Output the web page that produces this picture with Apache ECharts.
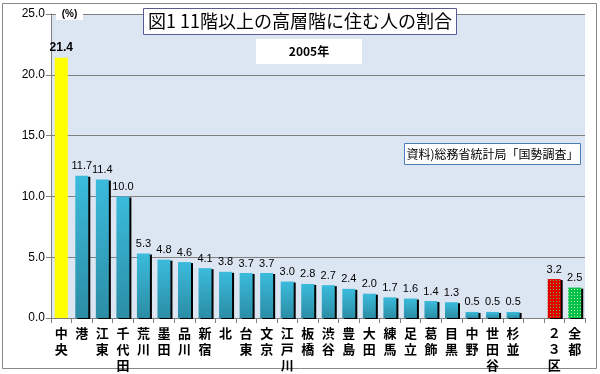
<!DOCTYPE html>
<html><head><meta charset="utf-8">
<script src="https://cdn.jsdelivr.net/npm/echarts@6/dist/echarts.min.js"></script>
<style>html,body{margin:0;padding:0;background:#fff}#c{width:600px;height:374px}</style>
</head><body><div id="c"></div>
<script>
const categories = ['中央','港','江東','千代田','荒川','墨田','品川','新宿','北','台東','文京','江戸川','板橋','渋谷','豊島','大田','練馬','足立','葛飾','目黒','中野','世田谷','杉並','','２３区','全都'];
const values = [21.4,11.7,11.4,10.0,5.3,4.8,4.6,4.1,3.8,3.7,3.7,3.0,2.8,2.7,2.4,2.0,1.7,1.6,1.4,1.3,0.5,0.5,0.5,null,3.2,2.5];
const yTicks = [0,5,10,15,20,25];
const titleText = '図1 11階以上の高層階に住む人の割合';
const subText = '2005年';
const sourceText = '資料)総務省統計局「国勢調査」';

const FONT = '"Noto Sans CJK JP", "Noto Sans", sans-serif';

function dotPattern(bg, dot){
  const cv = document.createElement('canvas');
  cv.width = 3; cv.height = 3;
  const g = cv.getContext('2d');
  g.fillStyle = bg; g.fillRect(0,0,3,3);
  g.fillStyle = dot; g.fillRect(1,1,1,1);
  return {image: cv, repeat: 'repeat'};
}

const blueGrad = new echarts.graphic.LinearGradient(0,0,0,1,[{offset:0,color:'#3bbbdc'},{offset:1,color:'#2b8da5'}]);

const data = values.map((v,i)=>{
  if (v === null) return null;
  const name = categories[i];
  let item = {value: v, itemStyle: {color: blueGrad, shadowColor:'#000', shadowOffsetX:2, shadowOffsetY:1, shadowBlur:0}};
  if (i === 0) {
    item.itemStyle = {color:'#ffff00'};
    item.label = {fontWeight:'bold', fontSize:12};
  } else if (name === '２３区') {
    item.itemStyle = {color: dotPattern('#e00000','#70c040'), shadowColor:'#000', shadowOffsetX:2, shadowOffsetY:1, shadowBlur:0};
  } else if (name === '全都') {
    item.itemStyle = {color: dotPattern('#00c050','#c0f080'), shadowColor:'#000', shadowOffsetX:2, shadowOffsetY:1, shadowBlur:0};
  }
  return item;
});

const chart = echarts.init(document.getElementById('c'), null, {renderer:'canvas'});
chart.setOption({
  animation:false,
  backgroundColor:'#fff',
  grid:{left:51, right:15, top:14, bottom:56, show:true, backgroundColor:'#dce6f2', borderWidth:0},
  xAxis:{
    type:'category', data:categories,
    axisLine:{show:true, lineStyle:{color:'#808080'}},
    axisTick:{show:true, alignWithLabel:false, length:5, lineStyle:{color:'#808080'}},
    axisLabel:{interval:0, color:'#000', fontFamily:FONT, fontSize:13, fontWeight:'bold', lineHeight:16, margin:7,
      formatter: v => v.split('').join('\n')}
  },
  yAxis:{
    type:'value', min:yTicks[0], max:yTicks[yTicks.length-1], interval:5,
    axisLine:{show:true, lineStyle:{color:'#808080'}},
    axisTick:{show:true, length:5, lineStyle:{color:'#808080'}},
    splitLine:{show:true, lineStyle:{color:'#808080', width:1}},
    axisLabel:{color:'#000', fontFamily:'"Liberation Sans", sans-serif', fontSize:12, margin:6, formatter: v=>v.toFixed(1)}
  },
  series:[{
    type:'bar', data:data, barWidth:13,
    label:{show:true, position:'top', distance:4, color:'#000', fontFamily:'"Liberation Sans", sans-serif', fontSize:11,
      formatter: p => p.value==null ? '' : Number(p.value).toFixed(1)}
  }],
  graphic:[
    {type:'rect', shape:{x:2.5, y:3.5, width:594, height:365}, style:{fill:'none', stroke:'#888', lineWidth:1}, silent:true, z:-1},
    {type:'rect', shape:{x:56, y:8, width:27, height:12}, style:{fill:'#fff'}, z:10},
    {type:'text', x:69.5, y:14, style:{text:'(%)', fill:'#000', font:'bold 10px "Liberation Sans", sans-serif', align:'center', verticalAlign:'middle'}, z:11},
    {type:'rect', shape:{x:143.5, y:8.5, width:313, height:26}, style:{fill:'#fff', stroke:'#5b5b96', lineWidth:1}, z:10},
    {type:'text', x:300, y:21.5, style:{text:titleText, fill:'#000', font:'18px ' + FONT, align:'center', verticalAlign:'middle'}, z:11},
    {type:'rect', shape:{x:256, y:39, width:106, height:25}, style:{fill:'#fff'}, z:10},
    {type:'text', x:309, y:51.5, style:{text:subText, fill:'#000', font:'bold 12px ' + FONT, align:'center', verticalAlign:'middle'}, z:11},
    {type:'rect', shape:{x:404.5, y:143.5, width:176, height:21}, style:{fill:'#fff', stroke:'#4a7ebb', lineWidth:1}, z:10},
    {type:'text', x:492.5, y:154, style:{text:sourceText, fill:'#000', font:'12px ' + FONT, align:'center', verticalAlign:'middle'}, z:11}
  ]
});
</script></body></html>
